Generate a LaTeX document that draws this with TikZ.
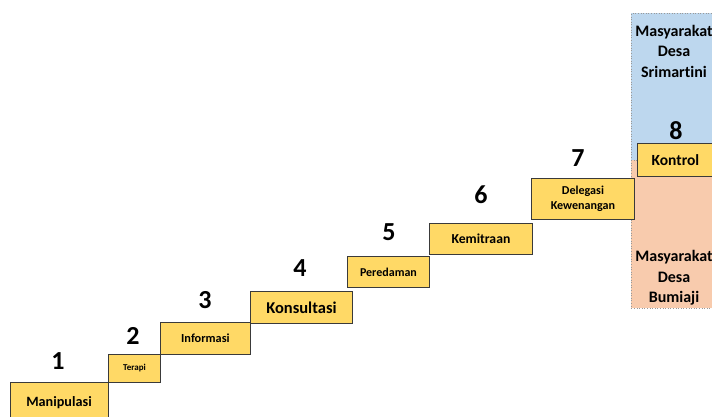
\documentclass[tikz,border=0pt]{standalone}
\usepackage{fontspec}
\setmainfont[Ligatures=NoCommon]{Carlito}
\definecolor{stepfill}{HTML}{FFD966}
\definecolor{stepline}{HTML}{3A3A3A}
\definecolor{bluebg}{HTML}{BDD7EE}
\definecolor{orangebg}{HTML}{F8CBAD}
\begin{document}
\begin{tikzpicture}[x=1pt,y=-1pt,
  stepbox/.style={draw=stepline, line width=0.9pt, fill=stepfill, anchor=north west, inner sep=0pt, align=center, font=\bfseries},
  num/.style={font=\bfseries\fontsize{26}{26}\selectfont, inner sep=0pt},
  bg/.style={draw=gray!80, dotted, line width=0.6pt, anchor=north west, inner sep=0pt},
  grp/.style={font=\bfseries\fontsize{16}{20.5}\selectfont, align=center, inner sep=0pt}]
\useasboundingbox (0,0) rectangle (712,416);
\begin{scope}
\clip (0,0) rectangle (712,416);
% backgrounds
\node[bg, fill=bluebg, minimum width=90pt, minimum height=147pt] (srim) at (631,13) {};
\node[bg, fill=orangebg, minimum width=90pt, minimum height=148pt] (bumi) at (631,160) {};
\node[grp] (srimtxt) at (674,51) {Masyarakat\\Desa\\Srimartini};
\node[grp] (bumitxt) at (674,278) {Masyarakat\\Desa\\Bumiaji};
% steps
\node[stepbox, minimum width=98pt, minimum height=45pt] (s1) at (10,382) {};
\node[font=\bfseries\fontsize{14.2}{16}\selectfont] (t1) at (59,403) {Manipulasi};
\node[stepbox, minimum width=52pt, minimum height=28pt, font=\bfseries\fontsize{9}{10}\selectfont] (s2) at (108,354) {Terapi};
\node[stepbox, minimum width=90pt, minimum height=32pt, font=\bfseries\fontsize{12.3}{14}\selectfont] (s3) at (160,322) {Informasi};
\node[stepbox, minimum width=102pt, minimum height=32pt, font=\bfseries\fontsize{16.5}{18}\selectfont] (s4) at (250,291) {Konsultasi};
\node[stepbox, minimum width=82pt, minimum height=31pt, font=\bfseries\fontsize{12}{14}\selectfont] (s5) at (347,256) {Peredaman};
\node[stepbox, minimum width=103pt, minimum height=31pt, font=\bfseries\fontsize{13.7}{15}\selectfont] (s6) at (429,223) {Kemitraan};
\node[stepbox, minimum width=103pt, minimum height=41pt, font=\bfseries\fontsize{12.1}{15}\selectfont] (s7) at (531,178) {Delegasi\\Kewenangan};
\node[stepbox, minimum width=76pt, minimum height=33pt, font=\bfseries\fontsize{15.5}{17}\selectfont] (s8) at (637,143) {Kontrol};
% numbers
\node[num] (n1) at (58,361) {1};
\node[num] (n2) at (133,336) {2};
\node[num] (n3) at (205,300) {3};
\node[num] (n4) at (300,268) {4};
\node[num] (n5) at (389,232) {5};
\node[num] (n6) at (481,195) {6};
\node[num] (n7) at (578,158) {7};
\node[num] (n8) at (676,131) {8};
\end{scope}
\end{tikzpicture}
\end{document}
